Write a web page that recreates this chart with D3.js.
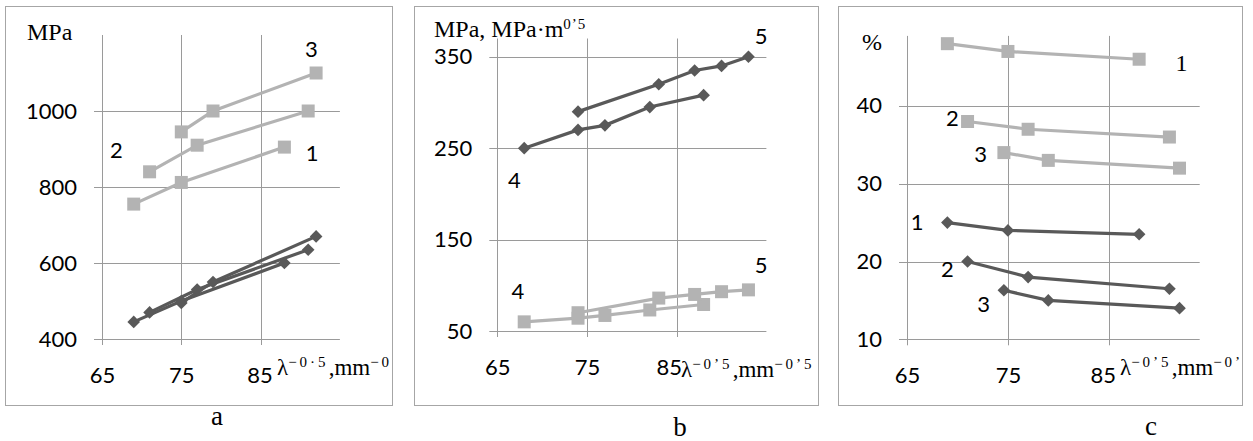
<!DOCTYPE html>
<html>
<head>
<meta charset="utf-8">
<script src="https://cdn.jsdelivr.net/npm/d3@7"></script>
<style>
  body { margin: 0; background: #fff; }
  .num { font-family: Lato, 'Open Sans', sans-serif; font-size: 22px; fill: #000; }
  .lbl { font-family: Lato, 'Open Sans', sans-serif; font-size: 22px; fill: #000; }
  .serif { font-family: 'Liberation Serif', 'Times New Roman', serif; fill: #000; }
</style>
</head>
<body>
<svg id="fig" width="1253" height="441"></svg>
<script>
// panel a: strength vs grain-size parameter
const aX1 = [69, 75, 88];
const aX2 = [71, 77, 91];
const aX3 = [75, 79, 92];
const aUltimate1 = [755, 812, 905];
const aUltimate2 = [840, 910, 1000];
const aUltimate3 = [945, 1000, 1100];
const aYield1 = [445, 500, 600];
const aYield2 = [470, 530, 635];
const aYield3 = [495, 550, 670];
const aYTicks = [400, 600, 800, 1000];

// panel b
const bX4 = [68, 74, 77, 82, 88];
const bX5 = [74, 83, 87, 90, 93];
const bStrength4 = [250, 270, 275, 295, 308];
const bStrength5 = [290, 320, 335, 340, 350];
const bTough4 = [60, 64, 67, 73, 79];
const bTough5 = [70, 86, 90, 93, 95];
const bYTicks = [50, 150, 250, 350];

// panel c
const cX1 = [69, 75, 88];
const cX2 = [71, 77, 91];
const cX3 = [74.6, 79, 92];
const cReduct1 = [48, 47, 46];
const cReduct2 = [38, 37, 36];
const cReduct3 = [34, 33, 32];
const cElong1 = [25, 24, 23.5];
const cElong2 = [20, 18, 16.5];
const cElong3 = [16.3, 15, 14];
const cYTicks = [10, 20, 30, 40];

const xTicks = [65, 75, 85];

const DARK = '#595959';
const LIGHT = '#b3b3b3';
const GRID = '#9a9a9a';

const svg = d3.select('#fig');
svg.append('rect').attr('width', 1253).attr('height', 441).attr('fill', '#fff');

const pair = (xs, ys) => xs.map((x, i) => [x, ys[i]]);

const panels = [
  {
    id: 'a', box: [5.5, 6.5, 387, 399],
    xRange: [102, 339.9], xDomain: [65, 95], lastDx: -1,
    yRange: [339, 35], yDomain: [400, 1200], yTicks: aYTicks,
    series: [
      { pts: pair(aX1, aUltimate1), kind: 'light' },
      { pts: pair(aX2, aUltimate2), kind: 'light' },
      { pts: pair(aX3, aUltimate3), kind: 'light' },
      { pts: pair(aX1, aYield1), kind: 'dark' },
      { pts: pair(aX2, aYield2), kind: 'dark' },
      { pts: pair(aX3, aYield3), kind: 'dark' }
    ],
    labels: [[91.4, 1163, '3'], [66.8, 897, '2'], [91.5, 889, '1']],
    yTitle: { x: 27, y: 40, parts: [['MPa']] },
    xTitle: { x: 277, y: 375, parts: [['λ'], ['−0·5', 1], [',mm'], ['−0·5', 1]] },
    caption: { x: 217, y: 425, t: 'a' }
  },
  {
    id: 'b', box: [414.5, 6.5, 404, 399],
    xRange: [497.3, 766.4], xDomain: [65, 95], lastDx: -8,
    yRange: [331, 38.5], yDomain: [50, 370], yTicks: bYTicks,
    series: [
      { pts: pair(bX4, bTough4), kind: 'light' },
      { pts: pair(bX5, bTough5), kind: 'light' },
      { pts: pair(bX4, bStrength4), kind: 'dark' },
      { pts: pair(bX5, bStrength5), kind: 'dark' }
    ],
    labels: [[94.4, 372.7, '5'], [66.9, 215, '4'], [94.4, 122, '5'], [67.3, 93, '4']],
    yTitle: { x: 434, y: 37, parts: [['MPa, MPa·m'], ['0’5', 1]] },
    xTitle: { x: 681, y: 377, parts: [['λ'], ['−0’5', 1], [',mm'], ['−0’5', 1]] },
    caption: { x: 680, y: 436, t: 'b' }
  },
  {
    id: 'c', box: [838.5, 6.5, 404, 399],
    xRange: [907, 1199.7], xDomain: [65, 94], lastDx: -6,
    yRange: [339.3, 35.9], yDomain: [10, 49], yTicks: cYTicks,
    series: [
      { pts: pair(cX1, cReduct1), kind: 'light' },
      { pts: pair(cX2, cReduct2), kind: 'light' },
      { pts: pair(cX3, cReduct3), kind: 'light' },
      { pts: pair(cX1, cElong1), kind: 'dark' },
      { pts: pair(cX2, cElong2), kind: 'dark' },
      { pts: pair(cX3, cElong3), kind: 'dark' }
    ],
    labels: [[69.5, 38.4, '2'], [72.3, 33.8, '3'], [66.0, 25, '1'], [69.0, 19.0, '2'], [72.6, 14.5, '3']],
    serifLabels: [[92.2, 45.6, '1']],
    yTitle: { x: 862, y: 50, parts: [['%']] },
    xTitle: { x: 1120, y: 375, parts: [['λ'], ['−0’5', 1], [',mm'], ['−0’5', 1]] },
    caption: { x: 1151, y: 435, t: 'c' }
  }
];

function richText(g, spec, size, supSize, supSpacing) {
  const t = g.append('text').attr('class', 'serif')
    .attr('x', spec.x).attr('y', spec.y).attr('font-size', size);
  let raised = false;
  spec.parts.forEach(([s, sup]) => {
    const ts = t.append('tspan').text(s);
    if (sup) {
      ts.attr('font-size', supSize).attr('letter-spacing', supSpacing);
      if (!raised) { ts.attr('dy', -8); raised = true; }
    } else if (raised) {
      ts.attr('dy', 8); raised = false;
    }
  });
}

panels.forEach(p => {
  const [bx, by, bw, bh] = p.box;
  const g = svg.append('g').attr('class', 'panel-' + p.id);

  g.append('clipPath').attr('id', 'clip-' + p.id)
    .append('rect').attr('x', bx).attr('y', by).attr('width', bw).attr('height', bh);

  g.append('rect').attr('x', bx).attr('y', by).attr('width', bw).attr('height', bh)
    .attr('fill', 'none').attr('stroke', '#a6a6a6').attr('stroke-width', 1);

  const x = d3.scaleLinear().domain(p.xDomain).range(p.xRange);
  const y = d3.scaleLinear().domain(p.yDomain).range(p.yRange);

  const grid = g.append('g').attr('stroke', GRID).attr('stroke-width', 1);
  grid.selectAll('line.h').data(p.yTicks).join('line').attr('class', 'h')
    .attr('x1', p.xRange[0] - 8).attr('x2', p.xRange[1])
    .attr('y1', d => Math.round(y(d)) + 0.5).attr('y2', d => Math.round(y(d)) + 0.5);
  grid.selectAll('line.v').data(xTicks).join('line').attr('class', 'v')
    .attr('x1', d => Math.round(x(d)) + 0.5).attr('x2', d => Math.round(x(d)) + 0.5)
    .attr('y1', p.yRange[1]).attr('y2', p.yRange[0] + 6);

  // tick labels via axes, no domain line / tick marks
  const fmt = d3.format('d');
  const yAxis = g.append('g').attr('transform', `translate(${p.xRange[0] - 25},0)`)
    .call(d3.axisLeft(y).tickValues(p.yTicks).tickFormat(fmt).tickSize(0).tickPadding(0));
  const xAxis = g.append('g').attr('transform', `translate(0,${p.yRange[0] + 36})`)
    .call(d3.axisBottom(x).tickValues(xTicks).tickFormat(fmt).tickSize(0).tickPadding(0));
  [yAxis, xAxis].forEach(a => {
    a.select('.domain').remove();
    a.attr('font-family', null).attr('font-size', null);
    a.selectAll('text').attr('class', 'num').attr('fill', '#000');
  });
  xAxis.selectAll('text').attr('dy', '0.35em')
    .attr('dx', d => d === xTicks[xTicks.length - 1] ? p.lastDx : 0);

  const line = d3.line().x(d => x(d[0])).y(d => y(d[1]));
  const lines = g.append('g').attr('fill', 'none').attr('stroke-width', 3.2);
  lines.selectAll('path').data(p.series).join('path')
    .attr('stroke', d => d.kind === 'dark' ? DARK : LIGHT)
    .attr('d', d => line(d.pts));

  const sq = d3.symbol(d3.symbolSquare, 169)();
  const dia = d3.symbol(d3.symbolSquare, 80)();
  p.series.forEach(s => {
    g.append('g').selectAll('path').data(s.pts).join('path')
      .attr('d', s.kind === 'dark' ? dia : sq)
      .attr('fill', s.kind === 'dark' ? DARK : LIGHT)
      .attr('transform', d => `translate(${x(d[0])},${y(d[1])})` + (s.kind === 'dark' ? ' rotate(45)' : ''));
  });

  g.append('g').selectAll('text').data(p.labels).join('text')
    .attr('class', 'lbl')
    .attr('x', d => x(d[0])).attr('y', d => y(d[1]))
    .attr('text-anchor', 'middle').attr('dy', '0.35em')
    .text(d => d[2]);
  if (p.serifLabels) {
    g.append('g').selectAll('text').data(p.serifLabels).join('text')
      .attr('class', 'serif').attr('font-size', 24)
      .attr('x', d => x(d[0])).attr('y', d => y(d[1]))
      .attr('text-anchor', 'middle').attr('dy', '0.35em')
      .text(d => d[2]);
  }

  const titles = g.append('g').attr('clip-path', `url(#clip-${p.id})`);
  richText(titles, p.yTitle, 24, 15, 1);
  richText(titles, p.xTitle, 23, 15, 3);

  svg.append('text').attr('class', 'serif').attr('font-size', 27)
    .attr('x', p.caption.x).attr('y', p.caption.y).attr('text-anchor', 'middle')
    .text(p.caption.t);
});
</script>
</body>
</html>
